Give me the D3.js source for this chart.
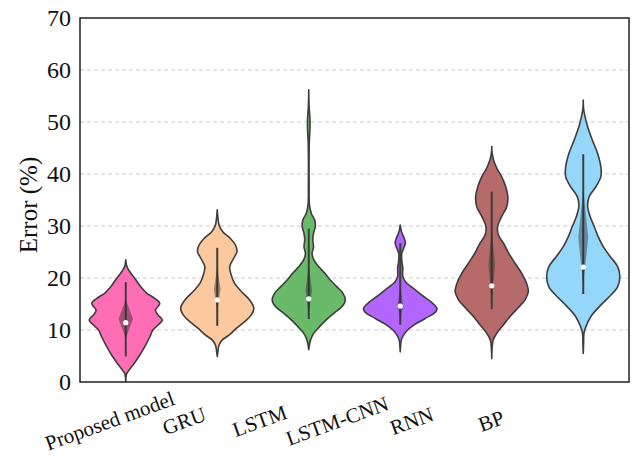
<!DOCTYPE html>
<html>
<head>
<meta charset="utf-8">
<script src="https://cdn.jsdelivr.net/npm/d3@7"></script>
<style>
  html, body { margin: 0; padding: 0; background: #ffffff; }
  svg { display: block; }
  svg text { font-family: "Liberation Serif", "Times New Roman", Times, serif; fill: #111; }
</style>
</head>
<body>
<svg id="chart" width="634" height="457"></svg>
<script>
// Model names along the x axis
const categories = ["Proposed model", "GRU", "LSTM", "LSTM-CNN", "RNN", "BP"];
const yTicks = [0, 10, 20, 30, 40, 50, 60, 70];

// Density outlines: [error value, relative half-width]
const proposedProfile = [[0, 0], [1.5, 0.02], [2.0, 0.06], [3.3, 0.20], [4.9, 0.36], [6.8, 0.52], [8.7, 0.66], [10.0, 0.74], [11.0, 0.89], [11.9, 1.0], [12.9, 0.88], [13.8, 0.81], [15.1, 0.93], [16.1, 0.79], [17.1, 0.57], [18.3, 0.41], [19.9, 0.25], [20.9, 0.14], [21.9, 0.05], [22.5, 0.02], [23.5, 0]];
const gruProfile = [[4.9, 0], [6.0, 0.02], [7.1, 0.05], [8.1, 0.14], [9.0, 0.32], [10.3, 0.52], [11.6, 0.75], [12.9, 0.93], [14.2, 1.0], [15.8, 0.88], [17.4, 0.66], [19.0, 0.47], [20.6, 0.38], [22.2, 0.34], [23.8, 0.45], [25.1, 0.54], [26.3, 0.50], [27.6, 0.36], [28.9, 0.15], [30.2, 0.05], [31.5, 0.02], [33.1, 0]];
const lstmProfile = [[6.2, 0], [7.2, 0.02], [8.1, 0.05], [9.4, 0.14], [10.6, 0.29], [11.9, 0.47], [13.2, 0.68], [14.5, 0.91], [15.8, 1.0], [17.1, 0.93], [18.3, 0.77], [19.6, 0.59], [20.9, 0.44], [22.2, 0.27], [23.5, 0.14], [24.7, 0.09], [26.0, 0.13], [27.3, 0.11], [28.6, 0.13], [29.9, 0.18], [31.2, 0.16], [32.4, 0.07], [34.0, 0.02], [38.0, 0.01], [46.0, 0.015], [49.0, 0.035], [51.0, 0.03], [53.0, 0.01], [56.2, 0]];
const lstmCnnProfile = [[5.8, 0], [7.0, 0.01], [8.1, 0.03], [9.0, 0.09], [10.0, 0.2], [11.0, 0.38], [12.2, 0.68], [13.5, 0.97], [14.2, 1.0], [15.4, 0.84], [16.7, 0.59], [18.0, 0.36], [19.3, 0.14], [20.3, 0.07], [21.9, 0.07], [23.5, 0.04], [24.7, 0.04], [25.7, 0.09], [26.7, 0.14], [27.6, 0.11], [28.6, 0.05], [29.3, 0.02], [30.2, 0]];
const rnnProfile = [[4.5, 0], [6.5, 0.01], [8.1, 0.04], [9.4, 0.14], [11.0, 0.32], [12.6, 0.5], [14.2, 0.71], [15.8, 0.91], [17.4, 1.0], [19.0, 0.95], [20.9, 0.82], [22.8, 0.64], [24.7, 0.47], [26.7, 0.32], [28.3, 0.18], [29.9, 0.16], [31.8, 0.27], [33.7, 0.41], [35.6, 0.44], [37.6, 0.38], [39.5, 0.27], [41.1, 0.14], [42.7, 0.05], [44.0, 0.01], [45.3, 0]];
const bpProfile = [[5.5, 0], [7.5, 0.01], [9.4, 0.02], [10.6, 0.07], [12.6, 0.21], [14.5, 0.44], [16.4, 0.71], [18.3, 0.94], [20.3, 1.0], [22.2, 0.94], [24.1, 0.74], [26.0, 0.55], [27.9, 0.41], [29.9, 0.30], [31.8, 0.19], [33.7, 0.12], [35.6, 0.16], [37.6, 0.35], [39.5, 0.48], [41.4, 0.48], [44.0, 0.39], [46.5, 0.25], [49.1, 0.12], [51.0, 0.05], [52.5, 0.01], [54.2, 0]];

// Summary statistics per model
const medians   = [11.4, 15.8, 16.0, 14.6, 18.5, 22.1];
const q1        = [8.4, 13.5, 13.0, 11.6, 15.8, 18.7];
const q3        = [15.8, 22.2, 22.2, 18.3, 29.2, 36.9];
const whiskerLo = [4.9, 10.8, 12.1, 11.0, 14.0, 16.9];
const whiskerHi = [19.2, 25.8, 29.5, 26.7, 36.6, 43.8];

const profiles = [proposedProfile, gruProfile, lstmProfile, lstmCnnProfile, rnnProfile, bpProfile];

// Styling
const fills = ["#ff6eb4", "#fbc99d", "#6abb69", "#b266fe", "#b76a6a", "#95d6fb"];
const boxHalf = [7.3, 3.3, 3.3, 2.7, 3.3, 5.0];
const labelShift = [-16, -33, -49, -63, -80, -92];
const serif = "'Liberation Serif', 'Times New Roman', Times, serif";

const width = 634, height = 457;
const margin = { left: 80, right: 5, top: 18, bottom: 75 };

const svg = d3.select("#chart").attr("font-family", serif);

const x = d3.scaleBand().domain(categories).range([margin.left, width - margin.right]).padding(0);
const y = d3.scaleLinear().domain([0, 70]).range([height - margin.bottom, margin.top]);

const maxHalf = x.bandwidth() * 0.4;

// clip to plot area
svg.append("defs").append("clipPath").attr("id", "plotClip")
  .append("rect")
  .attr("x", margin.left).attr("y", margin.top)
  .attr("width", width - margin.left - margin.right)
  .attr("height", height - margin.top - margin.bottom);

// horizontal dashed grid
svg.append("g").selectAll("line")
  .data(yTicks.filter(t => t > 0 && t < 70))
  .join("line")
  .attr("x1", margin.left).attr("x2", width - margin.right)
  .attr("y1", d => y(d)).attr("y2", d => y(d))
  .attr("stroke", "#c9c9c9").attr("stroke-width", 1)
  .attr("stroke-dasharray", "4,3");

const plot = svg.append("g").attr("clip-path", "url(#plotClip)");

categories.forEach((cat, i) => {
  const cx = x(cat) + x.bandwidth() / 2;
  const area = d3.area()
    .y(d => y(d[0]))
    .x0(d => cx - d[1] * maxHalf)
    .x1(d => cx + d[1] * maxHalf)
    .curve(d3.curveCatmullRom.alpha(0.5));

  plot.append("path")
    .datum(profiles[i])
    .attr("d", area)
    .attr("fill", fills[i])
    .attr("stroke", "#3d3d3d")
    .attr("stroke-width", 1.6)
    .attr("stroke-linejoin", "round");

  // whisker line
  plot.append("line")
    .attr("x1", cx).attr("x2", cx)
    .attr("y1", y(whiskerLo[i])).attr("y2", y(whiskerHi[i]))
    .attr("stroke", "#3d3d3d").attr("stroke-width", 2);

  // interquartile spindle
  const mid = (q1[i] + q3[i]) / 2;
  const pts = [[cx, y(q3[i])], [cx + boxHalf[i], y(mid)], [cx, y(q1[i])], [cx - boxHalf[i], y(mid)]];
  plot.append("path")
    .attr("d", d3.line().curve(d3.curveLinearClosed)(pts))
    .attr("fill", "rgba(45,45,45,0.45)")
    .attr("stroke", "none");

  // median marker
  plot.append("circle")
    .attr("cx", cx).attr("cy", y(medians[i]))
    .attr("r", 2.6).attr("fill", "#ffffff");
});

// y axis labels
const yAxis = svg.append("g")
  .attr("transform", `translate(${margin.left},0)`)
  .call(d3.axisLeft(y).tickValues(yTicks).tickSize(0).tickPadding(9).tickFormat(d3.format("d")))
  .attr("font-family", serif)
  .attr("font-size", 24);
yAxis.select(".domain").remove();
yAxis.selectAll("text").attr("fill", "#111");

// frame
svg.append("rect")
  .attr("x", margin.left).attr("y", margin.top)
  .attr("width", width - margin.left - margin.right)
  .attr("height", height - margin.top - margin.bottom)
  .attr("fill", "none").attr("stroke", "#222").attr("stroke-width", 1.5);

// x category labels
svg.append("g")
  .attr("font-family", serif)
  .attr("font-size", 21)
  .selectAll("text")
  .data(categories)
  .join("text")
  .attr("transform", (d, i) => `translate(${x(d) + x.bandwidth() / 2 + labelShift[i]},421) rotate(-20)`)
  .attr("text-anchor", "middle")
  .attr("dominant-baseline", "central")
  .text(d => d);

// y axis title
svg.append("text")
  .attr("transform", `translate(28,${(margin.top + height - margin.bottom) / 2 + 5}) rotate(-90)`)
  .attr("text-anchor", "middle")
  .attr("dominant-baseline", "central")
  .attr("font-family", serif)
  .attr("font-size", 25)
  .text("Error (%)");
</script>
</body>
</html>
